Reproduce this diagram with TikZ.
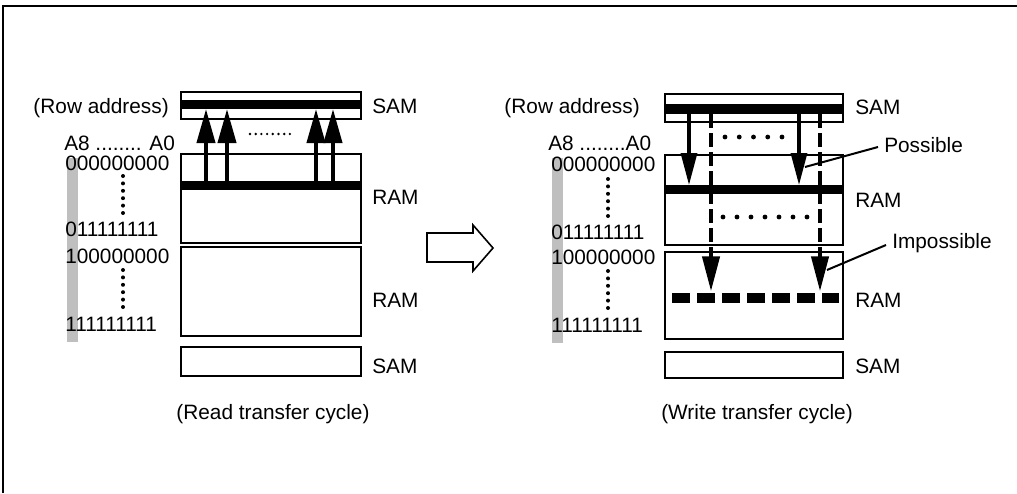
\documentclass[tikz,border=0pt]{standalone}
\usepackage{fontspec}
\setmainfont{Liberation Sans}
\usetikzlibrary{arrows.meta}
\begin{document}
\begin{tikzpicture}[x=0.75pt,y=-0.75pt,
  lbl/.style={anchor=west,inner sep=0pt,font=\fontsize{15.6}{18}\selectfont,text height=11.2pt,text depth=0pt},
  captxt/.style={anchor=center,inner sep=0pt,font=\fontsize{15.6}{18}\selectfont,text height=11.2pt,text depth=0pt},
  boxline/.style={line width=1.5pt},
  band/.style={fill=black},
  shade/.style={fill=black!25},
  uparrow/.style={line width=3pt,-{Triangle[length=25.5pt,width=13.5pt]}},
  downarrow/.style={line width=2.4pt,-{Triangle[length=24pt,width=12pt]}},
  dasharrow/.style={line width=2.4pt,dash pattern=on 10.5pt off 3.75pt,-{Triangle[length=26pt,width=13pt]}},
  thickdash/.style={line width=7.5pt,dash pattern=on 13.5pt off 5.25pt},
  leader/.style={line width=1.5pt},
  frameline/.style={line width=2pt},
  hollow/.style={line width=1.2pt}
]
\useasboundingbox (0,0) rectangle (1017,493);
% frame
\draw[frameline] (3,493) -- (3,6) -- (1017,6);

%================ LEFT (read) =================
\fill[shade] (67,158) rectangle (78,342);
\draw[boxline] (181,92) rectangle (361,119);
\fill[band] (181,100) rectangle (361,109);
\draw[boxline] (181,154) rectangle (361,243);
\fill[band] (181,181) rectangle (361,190);
\draw[boxline] (181,247) rectangle (361,336);
\draw[boxline] (181,347) rectangle (361,376);
\foreach \x [count=\i] in {206,227,316,333}{
  \coordinate (ls\i) at (\x,181);
  \coordinate (lt\i) at (\x,109);
  \draw[uparrow] (ls\i) -- (lt\i);
}
\foreach \x in {250,255.7,...,291}{\fill (\x,134) circle (1pt);}
\node[lbl] (lsam1) at (372,106) {SAM};
\node[lbl] (lram1) at (372,197) {RAM};
\node[lbl] (lram2) at (372,300) {RAM};
\node[lbl] (lsam2) at (372,366) {SAM};
\node[lbl,anchor=east] (lrow) at (169,106) {(Row address)};
\node[lbl] (la) at (64,143) {A8 ........ A0};
\node[lbl] (l0) at (65,163) {000000000};
\node[lbl] (l1) at (65,229) {011111111};
\node[lbl] (l2) at (65,256) {100000000};
\node[lbl] (l3) at (65,324) {111111111};
\foreach \y in {176,183.4,...,214}{\fill (123,\y) circle (1.5pt);}
\foreach \y in {270,277.4,...,308}{\fill (123,\y) circle (1.5pt);}
\node[captxt] (lcap) at (273,412) {(Read transfer cycle)};

%================ hollow arrow =================
\draw[hollow] (427,233) -- (473,233) -- (473,225) -- (493,248) -- (473,271) -- (473,262) -- (427,262) -- cycle;

%================ RIGHT (write) =================
\fill[shade] (552,158) rectangle (563,343);
\draw[boxline] (665,94) rectangle (843,122);
\fill[band] (665,104) rectangle (843,114);
\draw[boxline] (665,155) rectangle (843,245);
\fill[band] (665,185) rectangle (843,194);
\draw[boxline] (665,252) rectangle (843,339);
\draw[boxline] (665,352) rectangle (843,378);
\coordinate (rs1) at (689,114); \coordinate (rt1) at (689,185);
\coordinate (rs2) at (799,114); \coordinate (rt2) at (799,185);
\draw[downarrow] (rs1) -- (rt1);
\draw[downarrow] (rs2) -- (rt2);
\coordinate (ds1) at (711,114); \coordinate (dt1) at (711,291);
\coordinate (ds2) at (820,114); \coordinate (dt2) at (820,291);
\draw[dasharrow] (ds1) -- (dt1);
\draw[dasharrow] (ds2) -- (dt2);
\coordinate (db1) at (672,298); \coordinate (db2) at (839,298);
\draw[thickdash] (db1) -- (db2);
\foreach \x in {725,739.25,...,783}{\fill (\x,137) circle (1.8pt);}
\foreach \x in {723,737,...,808}{\fill (\x,217) circle (1.8pt);}
\node[lbl] (rsam1) at (855,107) {SAM};
\node[lbl] (rram1) at (855,200) {RAM};
\node[lbl] (rram2) at (855,300) {RAM};
\node[lbl] (rsam2) at (855,366) {SAM};
\node[lbl] (poss) at (884,145) {Possible};
\node[lbl] (imposs) at (892,241) {Impossible};
\coordinate (pp) at (805,167);
\coordinate (ip) at (827,270);
\draw[leader] (poss.west) ++(-6,2) -- (pp);
\draw[leader] (imposs.west) ++(-6,4) -- (ip);
\node[lbl,anchor=east] (rrow) at (640,106) {(Row address)};
\node[lbl] (ra) at (548,143) {A8 ........A0};
\node[lbl] (r0) at (551,164) {000000000};
\node[lbl] (r1) at (551,232) {011111111};
\node[lbl] (r2) at (551,257) {100000000};
\node[lbl] (r3) at (551,325) {111111111};
\foreach \y in {179,186.4,...,217}{\fill (608,\y) circle (1.5pt);}
\foreach \y in {271,278.4,...,309}{\fill (608,\y) circle (1.5pt);}
\node[captxt] (rcap) at (757,412) {(Write transfer cycle)};
\end{tikzpicture}
\end{document}
